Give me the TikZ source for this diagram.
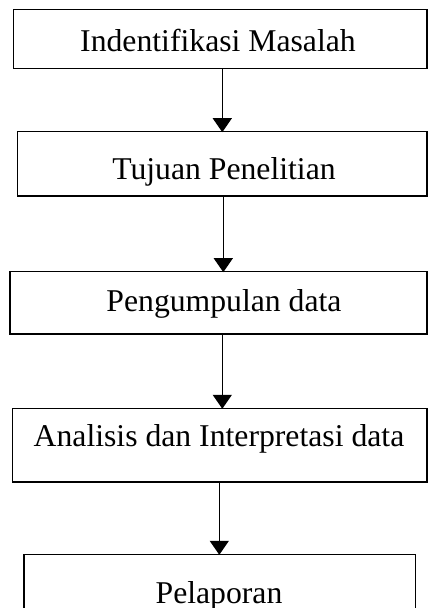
\documentclass[tikz,border=0pt]{standalone}
\usepackage{fontspec}
\setmainfont{Liberation Serif}
\usetikzlibrary{arrows.meta}
\begin{document}
\begin{tikzpicture}[x=1pt,y=-1pt,
  box/.style={draw=black,line width=1.4pt,rectangle,inner sep=0pt,outer sep=0pt},
  lbl/.style={anchor=base,inner sep=0pt,font=\fontsize{31.7}{38}\selectfont},
  conn/.style={draw=black,line width=1.4pt,-{Triangle[width=19pt,length=14pt]},shorten >=-0.5pt}]
\useasboundingbox (0,0) rectangle (428,608);
\clip (0,0) rectangle (428,608);
\fill[white] (0,0) rectangle (428,608);
\node[box,minimum width=413.3pt,minimum height=59pt] (b1) at (220.35,38.8) {};
\node[box,minimum width=409.3pt,minimum height=64.3pt] (b2) at (222.35,163.85) {};
\node[box,minimum width=417pt,minimum height=62.3pt] (b3) at (218.5,302.85) {};
\node[box,minimum width=414.7pt,minimum height=73.7pt] (b4) at (219.65,445.15) {};
\node[box,minimum width=391.7pt,minimum height=65.7pt] (b5) at (219.85,587.15) {};
\node[lbl] (t1) at (218,51.7) {Indentifikasi Masalah};
\node[lbl] (t2) at (224,179.5) {Tujuan Penelitian};
\node[lbl] (t3) at (224,311.5) {Pengumpulan data};
\node[lbl] (t4) at (219,446.5) {Analisis dan Interpretasi data};
\node[lbl] (t5) at (219,603.3) {Pelaporan};
\coordinate (x1) at (222.3,0);
\coordinate (x2) at (223.3,0);
\coordinate (x3) at (222.3,0);
\coordinate (x4) at (219.3,0);
\draw[conn] (b1.south -| x1) -- (b2.north -| x1);
\draw[conn] (b2.south -| x2) -- (b3.north -| x2);
\draw[conn] (b3.south -| x3) -- (b4.north -| x3);
\draw[conn] (b4.south -| x4) -- (b5.north -| x4);
\end{tikzpicture}
\end{document}
